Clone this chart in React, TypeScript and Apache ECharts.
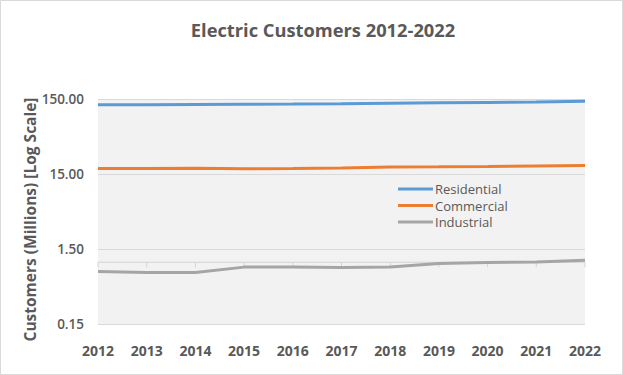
import React, { useEffect, useRef } from "react";
import * as echarts from "echarts";

const years = ["2012", "2013", "2014", "2015", "2016", "2017", "2018", "2019", "2020", "2021", "2022"];
const residential = [125.6, 126.0, 126.9, 127.8, 128.3, 129.4, 131.9, 133.3, 134.9, 136.8, 139.6];
const commercial = [17.7, 17.7, 17.9, 17.6, 17.8, 18.1, 18.6, 18.7, 18.9, 19.2, 19.4];
const industrial = [0.75, 0.73, 0.73, 0.86, 0.86, 0.85, 0.86, 0.96, 0.99, 1.01, 1.06];
const yTicks = [0.15, 1.5, 15, 150];
const BASE = 0.15; // axis minimum (millions)
const AXIS_CROSS = 1; // horizontal axis crosses at 1 million

const scale = (v: number) => v / BASE;
const GREY_TEXT = "#595959";
const FONT = "'Open Sans', sans-serif";

export default function App() {
  const ref = useRef<HTMLDivElement>(null);
  useEffect(() => {
    if (!ref.current) return;
    const chart = echarts.init(ref.current, null, { renderer: "svg" });
    const mk = (name: string, data: number[], color: string) => ({
      name,
      type: "line",
      data: data.map(scale),
      symbol: "none",
      smooth: false,
      lineStyle: { color, width: 3 },
      itemStyle: { color },
      z: 3,
    });
    chart.setOption({
      animation: false,
      backgroundColor: "#ffffff",
      title: {
        text: "Electric Customers 2012-2022",
        left: 318,
        top: 15,
        textAlign: "center",
        textStyle: { color: GREY_TEXT, fontFamily: FONT, fontSize: 18.3, fontWeight: "bold" },
      },
      graphic: [
        {
          type: "rect",
          shape: { x: 0.5, y: 0.5, width: 622, height: 374 },
          style: { fill: "none", stroke: "#d9d9d9", lineWidth: 1 },
          silent: true,
        },
      ],
      grid: {
        left: 98,
        right: 38,
        top: 99,
        bottom: 51,
        show: true,
        backgroundColor: "#f2f2f2",
        borderWidth: 0,
      },
      legend: {
        orient: "vertical",
        left: 393,
        top: 177,
        itemWidth: 35,
        itemHeight: 3,
        itemGap: 2.5,
        icon: "rect",
        data: ["Residential", "Commercial", "Industrial"],
        textStyle: {
          color: GREY_TEXT,
          fontFamily: FONT,
          fontSize: 13,
          lineHeight: 14,
          padding: [0, 0, 0, -3],
        },
      },
      xAxis: {
        type: "category",
        data: years,
        boundaryGap: false,
        axisLine: { show: false },
        axisTick: { show: false },
        axisLabel: {
          color: GREY_TEXT,
          fontFamily: FONT,
          fontSize: 14,
          fontWeight: "bold",
          margin: 19,
          showMinLabel: true,
          showMaxLabel: true,
          interval: 0,
        },
        splitLine: { show: false },
      },
      yAxis: {
        type: "log",
        logBase: 10,
        min: scale(yTicks[0]),
        max: scale(yTicks[yTicks.length - 1]),
        name: "Customers (Millions) [Log Scale]",
        nameLocation: "middle",
        nameGap: 60,
        nameMoveOverlap: false,
        nameTextStyle: {
          color: GREY_TEXT,
          fontFamily: FONT,
          fontSize: 15.5,
          fontWeight: "bold",
          padding: [0, 16, 0, 0],
        },
        axisLine: { show: false },
        axisTick: { show: false },
        axisLabel: {
          color: GREY_TEXT,
          fontFamily: FONT,
          fontSize: 13.5,
          fontWeight: 600,
          margin: 14,
          formatter: (v: number) => (v * BASE).toFixed(2),
        },
        splitLine: { show: true, lineStyle: { color: "#d9d9d9", width: 1 } },
      },
      series: [
        mk("Residential", residential, "#5b9bd5"),
        mk("Commercial", commercial, "#ed7d31"),
        mk("Industrial", industrial, "#a5a5a5"),
        {
          name: "axisCross",
          type: "line",
          data: years.map(() => scale(AXIS_CROSS)),
          symbol: "rect",
          symbolSize: [1, 5],
          symbolOffset: [0, 2.5],
          showSymbol: true,
          lineStyle: { color: "#d4d4d4", width: 1 },
          itemStyle: { color: "#d4d4d4" },
          silent: true,
          z: 2,
        },
      ],
    });
    return () => chart.dispose();
  }, []);
  return (
    <div
      ref={ref}
      style={{ position: "fixed", left: 0, top: 0, width: 623, height: 375 }}
    />
  );
}
